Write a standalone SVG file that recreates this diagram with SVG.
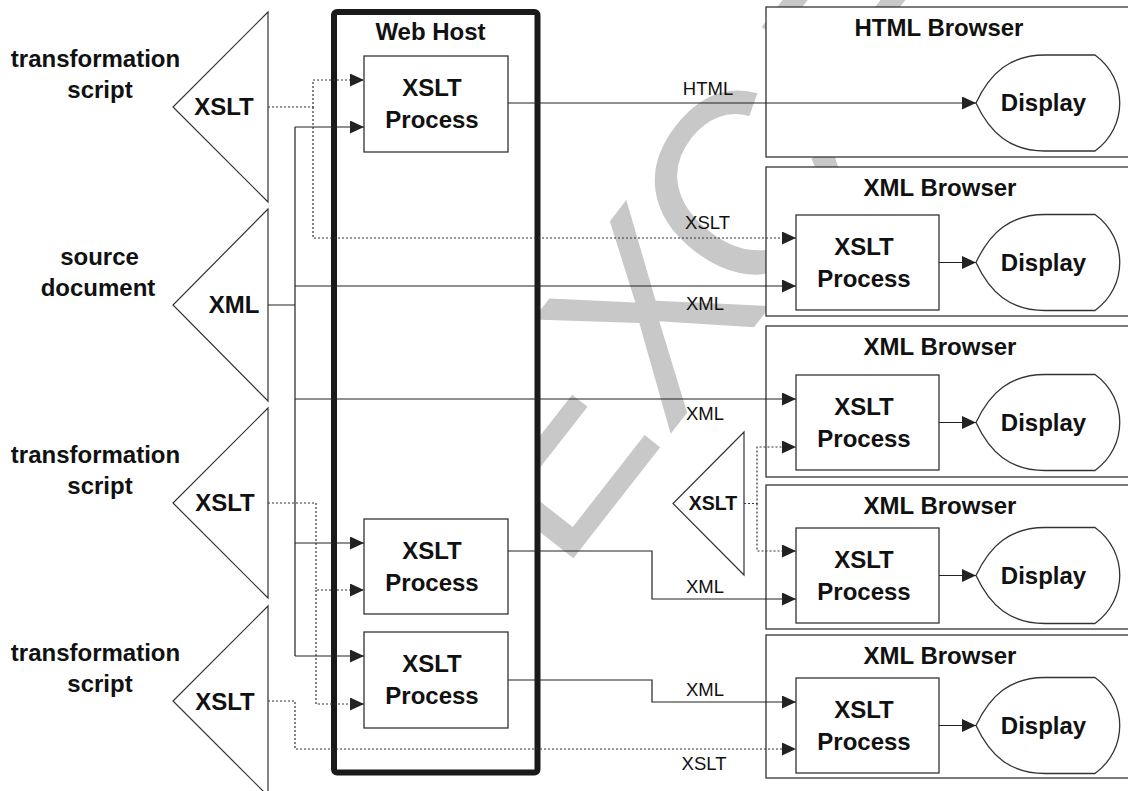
<svg xmlns="http://www.w3.org/2000/svg" width="1128" height="791" viewBox="0 0 1128 791">
<defs>
<style>
.box{fill:#fff;stroke:#333;stroke-width:1.3}
.tri{fill:none;stroke:#333;stroke-width:1.2}
.host{fill:#fff;stroke:#1a1a1a;stroke-width:6}
.ln{fill:none;stroke:#222;stroke-width:1.2}
.dt{fill:none;stroke:#333;stroke-width:1.2;stroke-dasharray:2 2}
.b{font-family:"Liberation Sans",Arial,Helvetica,sans-serif;font-weight:bold;font-size:24px;fill:#111;text-anchor:middle}
.s{font-family:"Liberation Sans",Arial,Helvetica,sans-serif;font-weight:bold;font-size:19.5px;fill:#111;text-anchor:middle}
.lb{font-family:"Liberation Sans",Arial,Helvetica,sans-serif;font-size:18.5px;fill:#111;text-anchor:middle}
.wm{font-family:"Liberation Sans",Arial,Helvetica,sans-serif;font-size:260px;fill:#c8c8c8}
</style>
<marker id="ah" markerUnits="userSpaceOnUse" markerWidth="15" markerHeight="14" refX="14" refY="6.5" orient="auto">
<path d="M0,0 L14,6.5 L0,13 Z" fill="#222"/>
</marker>
</defs>
<rect width="1128" height="791" fill="#fff"/>
<text class="wm" transform="translate(560.3,575.1) rotate(-52)">EX<tspan dx="-22" dy="-4">C</tspan><tspan dx="22" dy="4">ERPT</tspan></text>

<g id="src1">
<polygon class="tri" points="268,12 268,202 173,107"/>
<text class="b" x="224" y="115">XSLT</text>
<text class="b" x="95.5" y="67">transformation</text>
<text class="b" x="100" y="98">script</text>
</g>
<g id="src2">
<polygon class="tri" points="268,209 268,401 173,305"/>
<text class="b" x="234" y="313">XML</text>
<text class="b" x="99.5" y="265">source</text>
<text class="b" x="98" y="296">document</text>
</g>
<g id="src3">
<polygon class="tri" points="268,408 268,598 173,503"/>
<text class="b" x="225" y="511">XSLT</text>
<text class="b" x="95.5" y="463">transformation</text>
<text class="b" x="100" y="494">script</text>
</g>
<g id="src4">
<polygon class="tri" points="268,606 268,796 173,701"/>
<text class="b" x="225" y="710">XSLT</text>
<text class="b" x="95.5" y="661">transformation</text>
<text class="b" x="100" y="692">script</text>
</g>

<g id="webhost">
<rect class="host" x="334" y="12" width="203.5" height="760.5" rx="3"/>
<text class="b" x="430.5" y="40">Web Host</text>
</g>
<g id="hproc1">
<rect class="box" x="364" y="56" width="144" height="96"/>
<text class="b" x="432" y="96">XSLT</text>
<text class="b" x="432" y="128">Process</text>
</g>
<g id="hproc2">
<rect class="box" x="364" y="519" width="144" height="95"/>
<text class="b" x="432" y="559">XSLT</text>
<text class="b" x="432" y="591">Process</text>
</g>
<g id="hproc3">
<rect class="box" x="364" y="632" width="144" height="96"/>
<text class="b" x="432" y="672">XSLT</text>
<text class="b" x="432" y="704">Process</text>
</g>

<g id="htmlbrowser">
<rect class="box" x="766" y="7" width="380" height="150"/>
<text class="b" x="939" y="36">HTML Browser</text>
<path class="box" d="M976,103 C990,73 1010,55 1045,55 L1095,55 C1128,79 1128,127 1095,151 L1045,151 C1010,151 990,133 976,103 Z"/>
<text class="b" x="1043.5" y="111">Display</text>
</g>
<g id="xmlbrowser1">
<rect class="box" x="766" y="167" width="380" height="149"/>
<text class="b" x="940" y="196">XML Browser</text>
<rect class="box" x="796" y="215" width="143" height="95"/>
<text class="b" x="864" y="255">XSLT</text>
<text class="b" x="864" y="287">Process</text>
<path class="box" d="M976,262.5 C990,232.5 1010,214.5 1045,214.5 L1095,214.5 C1128,238.5 1128,286.5 1095,310.5 L1045,310.5 C1010,310.5 990,292.5 976,262.5 Z"/>
<text class="b" x="1043.5" y="270.5">Display</text>
</g>
<g id="xmlbrowser2">
<rect class="box" x="766" y="326" width="380" height="151"/>
<text class="b" x="940" y="355">XML Browser</text>
<rect class="box" x="796" y="375" width="143" height="95"/>
<text class="b" x="864" y="415">XSLT</text>
<text class="b" x="864" y="447">Process</text>
<path class="box" d="M976,422.5 C990,392.5 1010,374.5 1045,374.5 L1095,374.5 C1128,398.5 1128,446.5 1095,470.5 L1045,470.5 C1010,470.5 990,452.5 976,422.5 Z"/>
<text class="b" x="1043.5" y="430.5">Display</text>
</g>
<g id="xmlbrowser3">
<rect class="box" x="766" y="485" width="380" height="144"/>
<text class="b" x="940" y="514">XML Browser</text>
<rect class="box" x="796" y="528" width="143" height="95"/>
<text class="b" x="864" y="568">XSLT</text>
<text class="b" x="864" y="600">Process</text>
<path class="box" d="M976,575.5 C990,545.5 1010,527.5 1045,527.5 L1095,527.5 C1128,551.5 1128,599.5 1095,623.5 L1045,623.5 C1010,623.5 990,605.5 976,575.5 Z"/>
<text class="b" x="1043.5" y="583.5">Display</text>
</g>
<g id="xmlbrowser4">
<rect class="box" x="766" y="635" width="380" height="143"/>
<text class="b" x="940" y="664">XML Browser</text>
<rect class="box" x="796" y="678" width="143" height="95"/>
<text class="b" x="864" y="718">XSLT</text>
<text class="b" x="864" y="750">Process</text>
<path class="box" d="M976,725.5 C990,695.5 1010,677.5 1045,677.5 L1095,677.5 C1128,701.5 1128,749.5 1095,773.5 L1045,773.5 C1010,773.5 990,755.5 976,725.5 Z"/>
<text class="b" x="1043.5" y="733.5">Display</text>
</g>
<g id="clientxslt">
<polygon class="tri" points="744,432 744,575 673,503.5"/>
<text class="s" x="713" y="510">XSLT</text>
</g>

<g id="connectors">
<path class="ln" d="M268,305 H295 M295,127 V656"/>
<path class="ln" marker-end="url(#ah)" d="M295,127 H364"/>
<path class="ln" marker-end="url(#ah)" d="M295,286 H796"/>
<path class="ln" marker-end="url(#ah)" d="M295,399 H796"/>
<path class="ln" marker-end="url(#ah)" d="M295,543 H364"/>
<path class="ln" marker-end="url(#ah)" d="M295,656 H364"/>
<path class="ln" marker-end="url(#ah)" d="M508,103 H976"/>
<path class="ln" marker-end="url(#ah)" d="M508,551 H652 V599 H796"/>
<path class="ln" marker-end="url(#ah)" d="M508,680 H652 V702 H796"/>
<path class="ln" marker-end="url(#ah)" d="M939,262.5 H976"/>
<path class="ln" marker-end="url(#ah)" d="M939,422.5 H976"/>
<path class="ln" marker-end="url(#ah)" d="M939,575.5 H976"/>
<path class="ln" marker-end="url(#ah)" d="M939,725.5 H976"/>
<path class="dt" marker-end="url(#ah)" d="M268,107 H313 V80 H364"/>
<path class="dt" marker-end="url(#ah)" d="M313,107 V238 H796"/>
<path class="dt" marker-end="url(#ah)" d="M268,503 H316 V590 H364"/>
<path class="dt" marker-end="url(#ah)" d="M316,590 V704 H364"/>
<path class="dt" marker-end="url(#ah)" d="M268,701 H295 V749 H796"/>
<path class="dt" marker-end="url(#ah)" d="M744,503.5 H757 V447 H796"/>
<path class="dt" marker-end="url(#ah)" d="M757,503.5 V551 H796"/>
<text class="lb" x="708" y="95">HTML</text>
<text class="lb" x="707.5" y="229">XSLT</text>
<text class="lb" x="705" y="310">XML</text>
<text class="lb" x="705" y="420">XML</text>
<text class="lb" x="705" y="593">XML</text>
<text class="lb" x="705" y="696">XML</text>
<text class="lb" x="704" y="770">XSLT</text>
</g>
</svg>
